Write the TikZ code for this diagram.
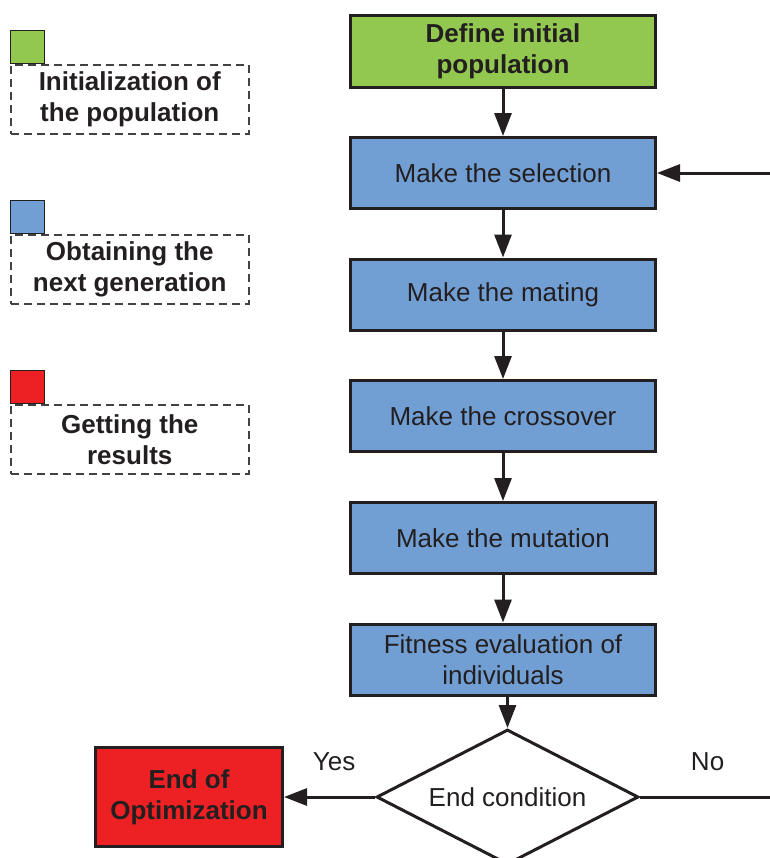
\documentclass[tikz,border=0pt]{standalone}
\usepackage{fontspec}
\setmainfont{Liberation Sans}
\usetikzlibrary{shapes.geometric}
\usetikzlibrary{arrows.meta}
\definecolor{popgreen}{RGB}{146,200,80}
\definecolor{genblue}{RGB}{113,158,211}
\definecolor{resred}{RGB}{237,32,36}
\definecolor{inkgray}{RGB}{35,31,32}

\begin{document}
\begin{tikzpicture}[x=0.5pt,y=-0.5pt,>={Triangle[length=11.5pt,width=8.5pt]},
                        every node/.style={text=inkgray,font=\fontsize{13}{15.5}\selectfont},
                        stepbox/.style={draw=inkgray,line width=1.5pt,fill=genblue,align=center,
                            minimum width=152.5pt,minimum height=35.5pt,inner sep=0pt},
                        link/.style={->,draw=inkgray,line width=1.5pt},
                        keybox/.style={draw=inkgray,line width=0.5pt,minimum width=17pt,
                            minimum height=16.5pt,inner sep=0pt,anchor=north west},
                        keytext/.style={draw=inkgray!85,line width=0.75pt,dash pattern=on 4pt off 2.5pt,
                            minimum width=119pt,minimum height=34.5pt,inner sep=0pt,align=center,
                            anchor=north west,font=\fontsize{13}{15.5}\selectfont\bfseries}]
                        \clip (0,0) rectangle (770,858);
                        \node[keybox,fill=popgreen] (keyinit) at (10,30) {};
                        \node[keytext] (txtinit) at (keyinit.south west) {Initialization of\\the population};
                        \node[keybox,fill=genblue] (keygen) at (10,200) {};
                        \node[keytext] (txtgen) at (keygen.south west) {Obtaining the\\next generation};
                        \node[keybox,fill=resred] (keyres) at (10,370) {};
                        \node[keytext] (txtres) at (keyres.south west) {Getting the\\results};
                        \node[stepbox,fill=popgreen,minimum height=36pt,font=\fontsize{13}{15.5}\selectfont\bfseries]
                            (init) at (503,51.5) {Define initial\\population};
                        \node[stepbox] (sel) at (503,173) {Make the selection};
                        \node[stepbox] (mate) at (503,294.5) {Make the mating};
                        \node[stepbox] (cross) at (503,416) {Make the crossover};
                        \node[stepbox] (mut) at (503,538) {Make the mutation};
                        \node[stepbox] (fit) at (503,659.5) {Fitness evaluation of\\individuals};
                        \node[draw=inkgray,line width=1.5pt,fill=white,diamond,aspect=1.9,minimum width=131pt,
                            minimum height=67.5pt,inner sep=0pt] (cond) at (507.5,797) {End condition};
                        \node[draw=inkgray,line width=1.5pt,fill=resred,minimum width=93.5pt,minimum height=49.5pt,
                            inner sep=0pt,align=center,font=\fontsize{13}{15.5}\selectfont\bfseries]
                            (stop) at (189,797) {End of\\Optimization};
                        \coordinate (back) at (770,173);
                        \coordinate (noend) at (770,797);
                        \draw[link] (init) -- (sel);
                        \draw[link] (sel) -- (mate);
                        \draw[link] (mate) -- (cross);
                        \draw[link] (cross) -- (mut);
                        \draw[link] (mut) -- (fit);
                        \draw[link] (fit.south -| cond.north) -- (cond.north);
                        \draw[link] (cond.west) -- (stop.east) node[pos=0.45,above=9pt] (yes) {Yes};
                        \draw[link,-] (cond.east) -- (noend) node[pos=0.52,above=9pt] (no) {No};
                        \draw[link] (back) -- (sel.east);
                    \end{tikzpicture}
\end{document}
